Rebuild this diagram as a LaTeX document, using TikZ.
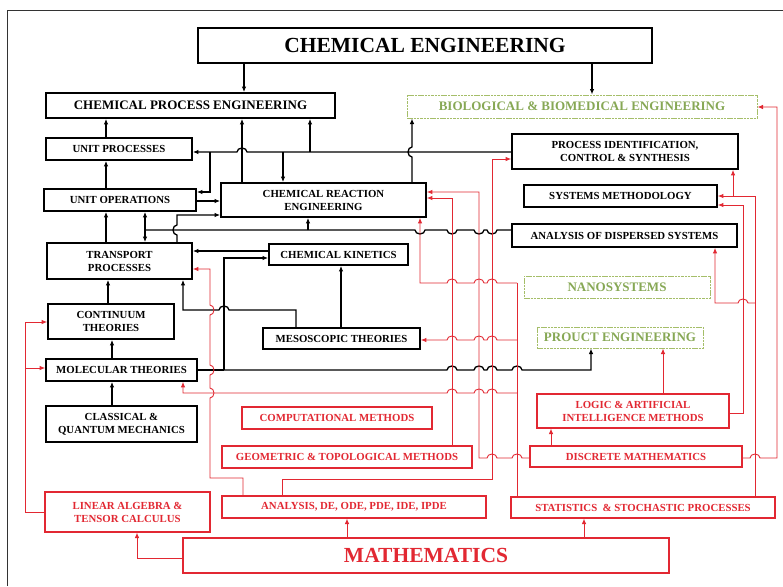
\documentclass[tikz,border=0pt]{standalone}
\usepackage{fontspec}
\setmainfont{Liberation Serif}
\usetikzlibrary{arrows.meta}
\definecolor{rd}{RGB}{226,40,50}
\definecolor{gnt}{RGB}{135,168,85}
\definecolor{gnb}{RGB}{165,190,105}
\newcommand\HopL[2]{-- ({#1+5},{-#2}) arc[start angle=0,end angle=180,x radius=5,y radius=4]}
\newcommand\HopR[2]{-- ({#1-5},{-#2}) arc[start angle=180,end angle=0,x radius=5,y radius=4]}
\newcommand\DipL[2]{-- ({#1+5},{-#2}) arc[start angle=0,end angle=-180,x radius=5,y radius=4]}
\newcommand\VupR[2]{-- ({#1},{-#2-5}) arc[start angle=-90,end angle=90,x radius=4,y radius=5]}
\newcommand\VupL[2]{-- ({#1},{-#2-5}) arc[start angle=-90,end angle=-270,x radius=4,y radius=5]}
\tikzset{
  bbox/.style={draw=black, line width=1.7pt, fill=white, align=center, inner sep=0pt,
    font=\bfseries\fontsize{10.8}{13}\selectfont},
  rbox/.style={draw=rd, line width=1.1pt, fill=white, align=center, inner sep=0pt, text=rd,
    font=\bfseries\fontsize{10.8}{13}\selectfont},
  gbox/.style={draw=gnb, line width=1pt, dash pattern=on 2.5pt off 0.8pt, fill=white, align=center,
    inner sep=0pt, text=gnt, font=\bfseries\fontsize{13}{15}\selectfont},
  bk/.style={draw=black, line width=1.3pt},
  rl/.style={draw=rd, line width=0.9pt},
  arr/.style={-{Latex[length=5.5pt,width=4.5pt]}},
}
\begin{document}
\begin{tikzpicture}[x=1pt,y=1pt]
\useasboundingbox (0,0) rectangle (783,-586);
\fill[white] (0,0) rectangle (783,-586);
\draw[line width=0.8pt, black!80] (7,-586) -- (7,-10) -- (783,-10);

% ---------- black nodes ----------
\node[bbox, minimum width=454pt, minimum height=35pt, font=\bfseries\fontsize{21.5}{24}\selectfont] (ce) at (425,-45.5) {CHEMICAL ENGINEERING};
\node[bbox, minimum width=289pt, minimum height=25pt, font=\bfseries\fontsize{13}{15}\selectfont] (cpe) at (190.5,-105.5) {CHEMICAL PROCESS ENGINEERING};
\node[bbox, minimum width=146pt, minimum height=22pt] (up) at (119,-149) {UNIT PROCESSES};
\node[bbox, minimum width=152pt, minimum height=22pt] (uo) at (120,-200) {UNIT OPERATIONS};
\node[bbox, minimum width=205pt, minimum height=34pt] (cre) at (323.5,-200) {CHEMICAL REACTION\\ENGINEERING};
\node[bbox, minimum width=145pt, minimum height=36pt] (tp) at (119.5,-261) {TRANSPORT\\PROCESSES};
\node[bbox, minimum width=139pt, minimum height=21pt] (ck) at (338.5,-254.5) {CHEMICAL KINETICS};
\node[bbox, minimum width=126pt, minimum height=35pt] (ct) at (111,-321.5) {CONTINUUM\\THEORIES};
\node[bbox, minimum width=157pt, minimum height=21pt] (meso) at (341.5,-338.5) {MESOSCOPIC THEORIES};
\node[bbox, minimum width=151pt, minimum height=22pt] (mt) at (121.5,-370) {MOLECULAR THEORIES};
\node[bbox, minimum width=151pt, minimum height=36pt] (cqm) at (121.5,-424) {CLASSICAL \&\\QUANTUM MECHANICS};
\node[bbox, minimum width=226pt, minimum height=35pt] (pid) at (625,-151.5) {PROCESS IDENTIFICATION,\\CONTROL \& SYNTHESIS};
\node[bbox, minimum width=193pt, minimum height=22pt] (sm) at (620.5,-196) {SYSTEMS METHODOLOGY};
\node[bbox, minimum width=225pt, minimum height=23pt] (ads) at (624.5,-235.5) {ANALYSIS OF DISPERSED SYSTEMS};

% ---------- green nodes ----------
\node[gbox, minimum width=350pt, minimum height=23pt] (bio) at (582,-106.5) {BIOLOGICAL \& BIOMEDICAL ENGINEERING};
\node[gbox, minimum width=186pt, minimum height=22pt] (nano) at (617,-287) {NANOSYSTEMS};
\node[gbox, minimum width=166pt, minimum height=21pt] (pe) at (620,-337.5) {PROUCT ENGINEERING};

% ---------- red nodes ----------
\node[rbox, minimum width=192pt, minimum height=34pt] (laim) at (633,-411) {LOGIC \& ARTIFICIAL\\INTELLIGENCE METHODS};
\node[rbox, minimum width=212pt, minimum height=21pt] (dm) at (636,-456.5) {DISCRETE MATHEMATICS};
\node[rbox, minimum width=264pt, minimum height=21pt] (stat) at (643,-507.5) {STATISTICS \ \& STOCHASTIC PROCESSES};
\node[rbox, minimum width=486pt, minimum height=35pt, font=\bfseries\fontsize{21.5}{24}\selectfont] (math) at (426,-555.5) {MATHEMATICS};
\node[rbox, minimum width=264pt, minimum height=22pt] (ade) at (354,-507) {ANALYSIS, DE, ODE, PDE, IDE, IPDE};
\node[rbox, minimum width=250pt, minimum height=22pt] (geom) at (347,-457) {GEOMETRIC \& TOPOLOGICAL METHODS};
\node[rbox, minimum width=190pt, minimum height=22pt] (comp) at (337,-418) {COMPUTATIONAL METHODS};
\node[rbox, minimum width=165pt, minimum height=40pt] (la) at (127.5,-512) {LINEAR ALGEBRA \&\\TENSOR CALCULUS};

% ---------- junctions ----------
\coordinate (pa) at (210,-152);
\coordinate (pb) at (283,-152);
\coordinate (pc) at (310,-152);
\coordinate (ja) at (145,-230);
\coordinate (jb) at (308,-230);
\coordinate (jc) at (224,-370);
\coordinate (jd) at (25,-368);
\coordinate (je) at (517,-283);
\coordinate (jf) at (517,-340);
\coordinate (jg) at (517,-393);
\coordinate (jh) at (733,-196);
\coordinate (ji) at (755,-303);

% ---------- black connectors ----------
\draw[bk,arr] (ce.south -| 244,0) -- (cpe.north -| 244,0);
\draw[bk,arr] (ce.south -| 592,0) -- (bio.north -| 592,0);
\draw[bk,arr] (up.north -| 106,0) -- (cpe.south -| 106,0);
\draw[bk,arr] (uo.north -| 106,0) -- (up.south -| 106,0);
\draw[bk,arr] (tp.north -| 106,0) -- (uo.south -| 106,0);
\draw[bk,arr] (ct.north -| 108,0) -- (tp.south -| 108,0);
\draw[bk,arr] (mt.north -| 112,0) -- (ct.south -| 112,0);
\draw[bk,arr] (cqm.north -| 112,0) -- (mt.south -| 112,0);

\draw[bk,arr] (pid.west |- 0,-152) \HopL{242}{152} -- (up.east |- 0,-152);
\draw[bk,arr] (pa) |- (uo.east |- 0,-192);
\draw[bk,arr] (pb) -- (cre.north -| pb);
\draw[bk,arr] (pc) -- (cpe.south -| pc);
\draw[bk,arr] (cre.north -| 242,0) -- (cpe.south -| 242,0);
\draw[bk,arr] (cre.north -| 412,0) \VupL{412}{152} -- (bio.south -| 412,0);
\draw[bk,arr] (uo.east |- 0,-201) -- (cre.west |- 0,-201);
\draw[bk,arr] (tp.north -| 177,0) \VupL{177}{230} -- (177,-215) -- (cre.west |- 0,-215);

\draw[bk] (ads.west |- 0,-230) \DipL{492}{230} \DipL{479}{230} \DipL{452}{230} \DipL{420}{230} -- (ja);
\draw[bk,arr] (ja) -- (uo.south -| ja);
\draw[bk,arr] (ja) -- (tp.north -| ja);
\draw[bk,arr] (jb) -- (cre.south -| jb);

\draw[bk,arr] (ck.west |- 0,-251) -- (tp.east |- 0,-251);
\draw[bk] (mt.east |- 0,-370) -- (jc);
\draw[bk,arr] (jc) |- (ck.west |- 0,-258);
\draw[bk,arr] (jc) \HopR{452}{370} \HopR{479}{370} \HopR{492}{370} \HopR{517}{370} -- (591,-370) -- (pe.south -| 591,0);
\draw[bk,arr] (meso.north -| 341,0) -- (ck.south -| 341,0);
\draw[bk,arr] (meso.north -| 296,0) -- (296,-310) \HopL{224}{310} -- (183,-310) -- (tp.south -| 183,0);

% ---------- red connectors ----------
\draw[rl,arr] (math.west |- 0,-558) -| (la.south -| 137,0);
\draw[rl,arr] (math.north -| 347,0) -- (ade.south -| 347,0);
\draw[rl,arr] (math.north -| 584,0) -- (stat.south -| 584,0);
\draw[rl,arr] (la.west |- 0,-512) -| (25,-322) -- (ct.west |- 0,-322);
\draw[rl,arr] (jd) -- (mt.west |- 0,-368);
\draw[rl,arr] (ade.north -| 243,0) -- (243,-478) -- (210,-478) \VupR{210}{393} \VupR{210}{370} \VupR{210}{310} -- (210,-269) -- (tp.east |- 0,-269);
\draw[rl,arr] (ade.north -| 282,0) -- (282,-479) -- (492,-479) -- (492,-159) -- (pid.west |- 0,-159);
\draw[rl,arr] (geom.north -| 452,0) -- (452,-198) -- (cre.east |- 0,-198);
\draw[rl,arr] (dm.west |- 0,-458) \HopL{517}{458} \HopL{492}{458} -- (479,-458) -- (479,-192) -- (cre.east |- 0,-192);
\draw[rl] (stat.north -| 517,0) -- (je);
\draw[rl,arr] (je) \HopL{492}{283} \HopL{479}{283} \HopL{452}{283} -- (420,-283) -- (cre.south -| 420,0);
\draw[rl,arr] (jf) \HopL{492}{340} \HopL{479}{340} \HopL{452}{340} -- (meso.east |- 0,-340);
\draw[rl,arr] (jg) \HopL{492}{393} \HopL{479}{393} \HopL{452}{393} -- (183,-393) -- (mt.south -| 183,0);
\draw[rl,arr] (stat.north -| 755,0) -- (755,-196) -- (sm.east |- 0,-196);
\draw[rl,arr] (jh) -- (pid.south -| jh);
\draw[rl,arr] (ji) \HopL{743}{303} -- (715,-303) -- (ads.south -| 715,0);
\draw[rl,arr] (laim.east |- 0,-413) -| (743,-205) -- (sm.east |- 0,-205);
\draw[rl,arr] (dm.east |- 0,-458) \HopR{755}{458} -- (777,-458) -- (777,-107) -- (bio.east |- 0,-107);
\draw[rl,arr] (dm.north -| 551,0) -- (laim.south -| 551,0);
\draw[rl,arr] (laim.north -| 663,0) -- (pe.south -| 663,0);
\end{tikzpicture}
\end{document}
